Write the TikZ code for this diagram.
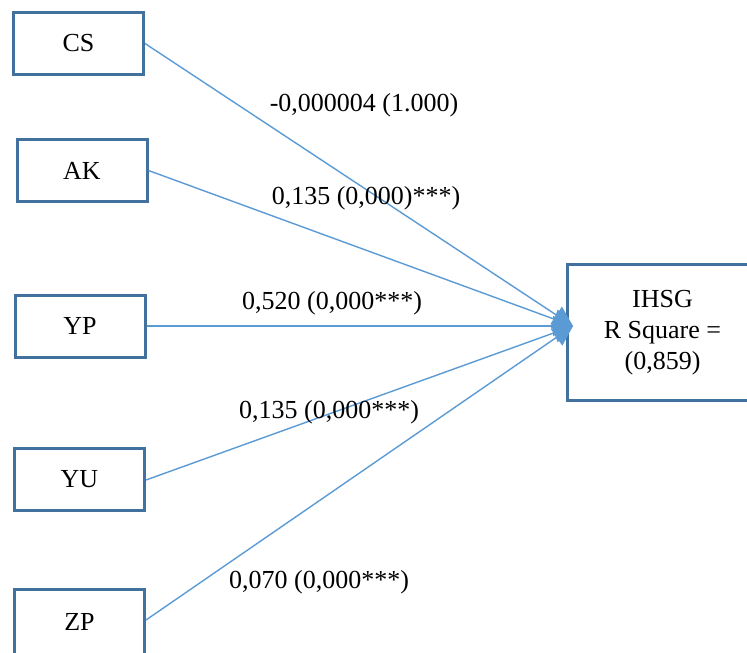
\documentclass[tikz,border=0pt]{standalone}
\usepackage{fontspec}
\setmainfont{Liberation Serif}
\usetikzlibrary{arrows.meta}
\definecolor{boxline}{HTML}{41719C}
\definecolor{linkline}{HTML}{5B9BD5}
\tikzset{
  varbox/.style={draw=boxline, line width=3pt, fill=white, inner sep=0pt,
    minimum width=130pt, minimum height=62pt, font=\fontsize{26}{31}\selectfont},
  link/.style={draw=linkline, line width=1.4pt,
    -{Triangle[length=20pt,width=20pt]}},
  coef/.style={inner sep=0pt, font=\fontsize{26}{31}\selectfont}
}
\begin{document}
\begin{tikzpicture}[x=1pt,y=-1pt]
  \useasboundingbox (0,0) rectangle (747,653);
  \clip (0,0) rectangle (747,653);

  % independent variables
  \node[varbox] (CS) at (78.5,43.5) {CS};
  \node[varbox] (AK) at (82,170.5) {AK};
  \node[varbox] (YP) at (80,326) {YP};
  \node[varbox] (YU) at (79.5,479) {YU};
  \node[varbox, minimum height=70pt] (ZP) at (79.5,624.5) {\raisebox{5pt}{ZP}};

  % dependent variable
  \node[varbox, minimum width=190pt, minimum height=136pt, align=center]
    (IHSG) at (662.5,332.5) {IHSG\\R Square =\\(0,859)};

  \coordinate (tip) at (573,326);

  % paths
  \draw[link] (CS.east) -- (tip);
  \draw[link] (AK.east) -- (tip);
  \draw[link] (YP.east) -- (tip);
  \draw[link] ([yshift=-1pt]YU.east) -- (tip);
  \draw[link] ([yshift=4.5pt]ZP.east) -- (tip);

  % coefficients
  \node[coef] (cCS) at (364,105) {-0,000004 (1.000)};
  \node[coef] (cAK) at (366,198) {0,135 (0,000)***)};
  \node[coef] (cYP) at (332,303) {0,520 (0,000***)};
  \node[coef] (cYU) at (329,412) {0,135 (0,000***)};
  \node[coef] (cZP) at (319,582) {0,070 (0,000***)};
\end{tikzpicture}
\end{document}
